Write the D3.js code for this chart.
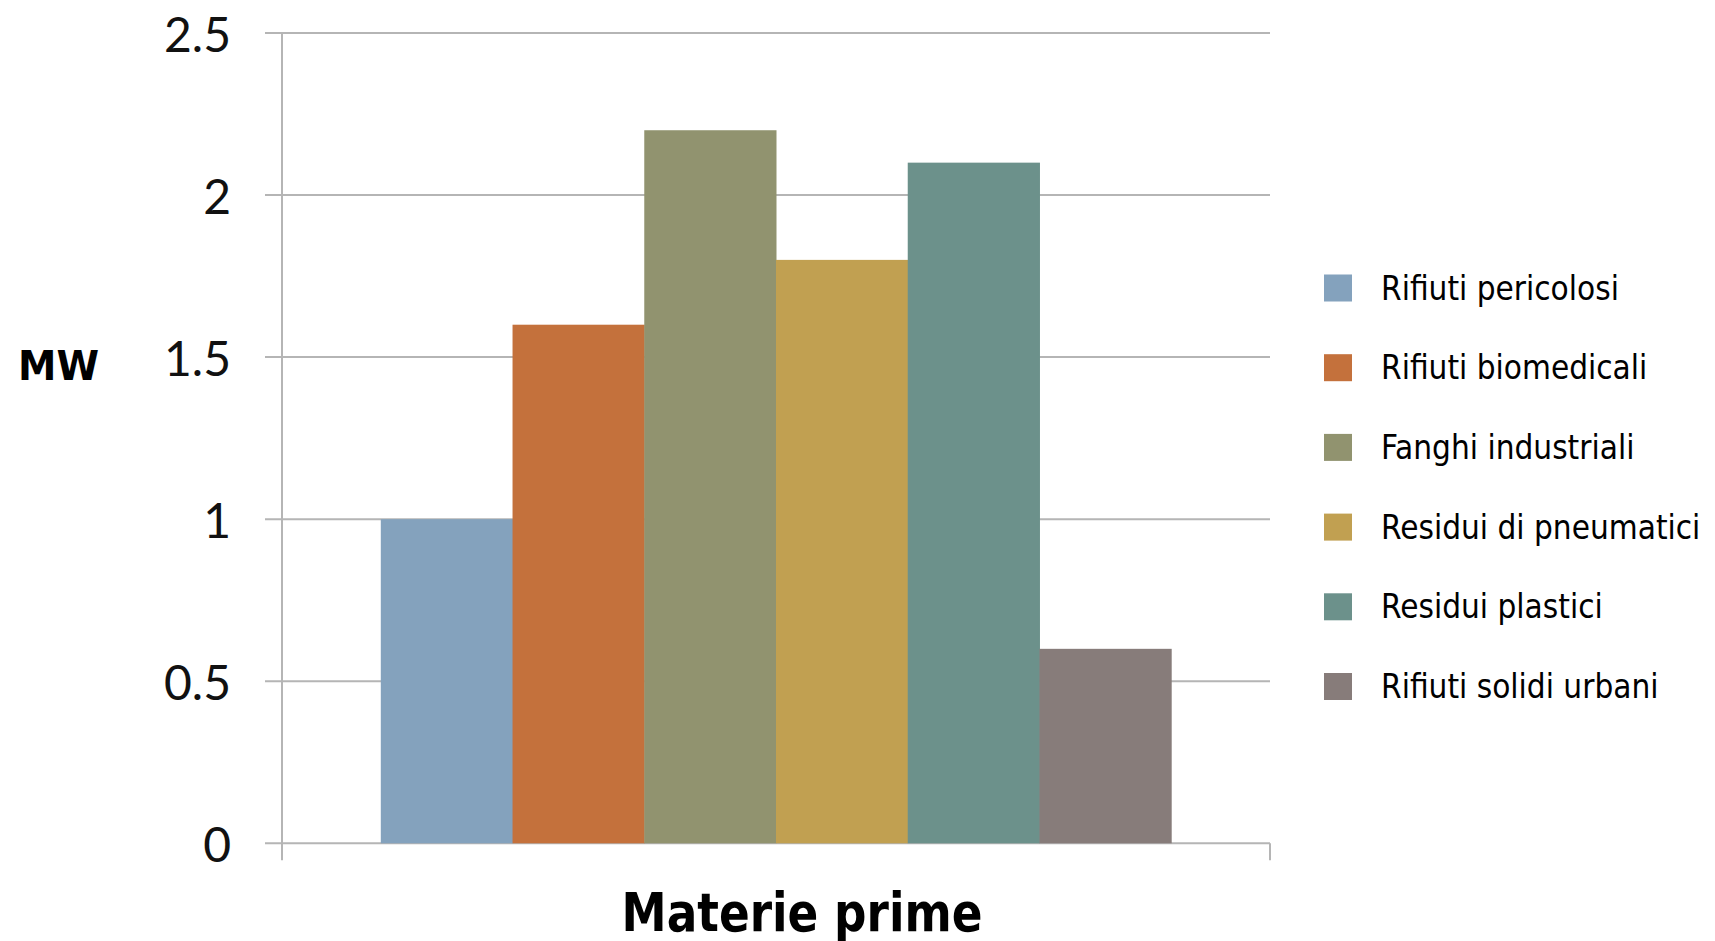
<!DOCTYPE html>
<html>
<head>
<meta charset="utf-8">
<script src="https://cdn.jsdelivr.net/npm/d3@7"></script>
<style>
  html, body { margin: 0; padding: 0; background: #fff; }
  svg { display: block; }
</style>
</head>
<body>
<svg id="chart" width="1715" height="941"></svg>
<script>
const categories = ["Materie prime"];
const seriesNames = ["Rifiuti pericolosi", "Rifiuti biomedicali", "Fanghi industriali", "Residui di pneumatici", "Residui plastici", "Rifiuti solidi urbani"];
const seriesValues = [1.0, 1.6, 2.2, 1.8, 2.1, 0.6];
const seriesColors = ["#84A2BD", "#C4713C", "#91936F", "#C1A051", "#6C918B", "#877C7A"];
const yTicks = [0, 0.5, 1, 1.5, 2, 2.5];
const yTickLabels = ["0", "0.5", "1", "1.5", "2", "2.5"];
const yAxisTitle = "MW";
const xAxisTitle = "Materie prime";

(function () {
const svg = d3.select("#chart");
const plotLeft = 282, plotRight = 1270, plotTop = 33, plotBottom = 843.3;
const gridColor = "#b5b5b5";

const y = d3.scaleLinear().domain([0, 2.5]).range([plotBottom, plotTop]);
const x0 = d3.scaleBand().domain(categories).range([plotLeft, plotRight]).paddingInner(0.2).paddingOuter(0.1);
const x1 = d3.scaleBand().domain(seriesNames).range([0, x0.bandwidth()]).padding(0);

// gridlines
svg.append("g").selectAll("line").data(yTicks).join("line")
  .attr("x1", plotLeft - 17).attr("x2", plotRight)
  .attr("y1", d => y(d)).attr("y2", d => y(d))
  .attr("stroke", gridColor).attr("stroke-width", 2);

// y axis line
svg.append("line").attr("x1", plotLeft).attr("x2", plotLeft).attr("y1", plotTop).attr("y2", plotBottom + 17)
  .attr("stroke", gridColor).attr("stroke-width", 2);
// right tick of x axis
svg.append("line").attr("x1", plotRight).attr("x2", plotRight).attr("y1", plotBottom).attr("y2", plotBottom + 17)
  .attr("stroke", gridColor).attr("stroke-width", 2);

// bars
const groups = svg.append("g").selectAll("g").data(categories).join("g")
  .attr("transform", d => `translate(${x0(d)},0)`);
groups.selectAll("rect").data(() => seriesNames.map((n, i) => ({ n, v: seriesValues[i], c: seriesColors[i] })))
  .join("rect")
  .attr("x", d => x1(d.n))
  .attr("width", x1.bandwidth() + 0.5)
  .attr("y", d => y(d.v))
  .attr("height", d => y(0) - y(d.v))
  .attr("fill", d => d.c);

// y tick labels
svg.append("g").selectAll("text").data(yTicks).join("text")
  .attr("x", 231).attr("y", d => y(d))
  .attr("text-anchor", "end").attr("dominant-baseline", "central")
  .attr("font-family", "Lato, 'Noto Sans', sans-serif").attr("font-size", 48)
  .attr("fill", "#111")
  .text((d, i) => yTickLabels[i]);

// axis titles
svg.append("text").attr("x", 18).attr("y", 379.5)
  .attr("font-family", "'DejaVu Sans', sans-serif").attr("font-weight", "bold").attr("font-size", 40)
  .attr("textLength", 81).attr("lengthAdjust", "spacingAndGlyphs")
  .attr("fill", "#000").text(yAxisTitle);

svg.append("text").attr("x", 802).attr("y", 931).attr("text-anchor", "middle")
  .attr("font-family", "'DejaVu Sans', sans-serif").attr("font-weight", "bold").attr("font-size", 53)
  .attr("textLength", 361).attr("lengthAdjust", "spacingAndGlyphs")
  .attr("fill", "#000").text(xAxisTitle);

// legend
const legend = svg.append("g").selectAll("g").data(seriesNames).join("g")
  .attr("transform", (d, i) => `translate(1324, ${288 + i * 79.7})`);
legend.append("rect").attr("x", 0).attr("y", -13.5).attr("width", 28).attr("height", 27)
  .attr("fill", (d, i) => seriesColors[i]);
legend.append("text").attr("x", 57).attr("y", 0).attr("dominant-baseline", "central")
  .attr("font-family", "'DejaVu Sans Condensed', 'DejaVu Sans', sans-serif").attr("font-size", 33)
  .attr("fill", "#000").text(d => d);
})();
</script>
</body>
</html>
